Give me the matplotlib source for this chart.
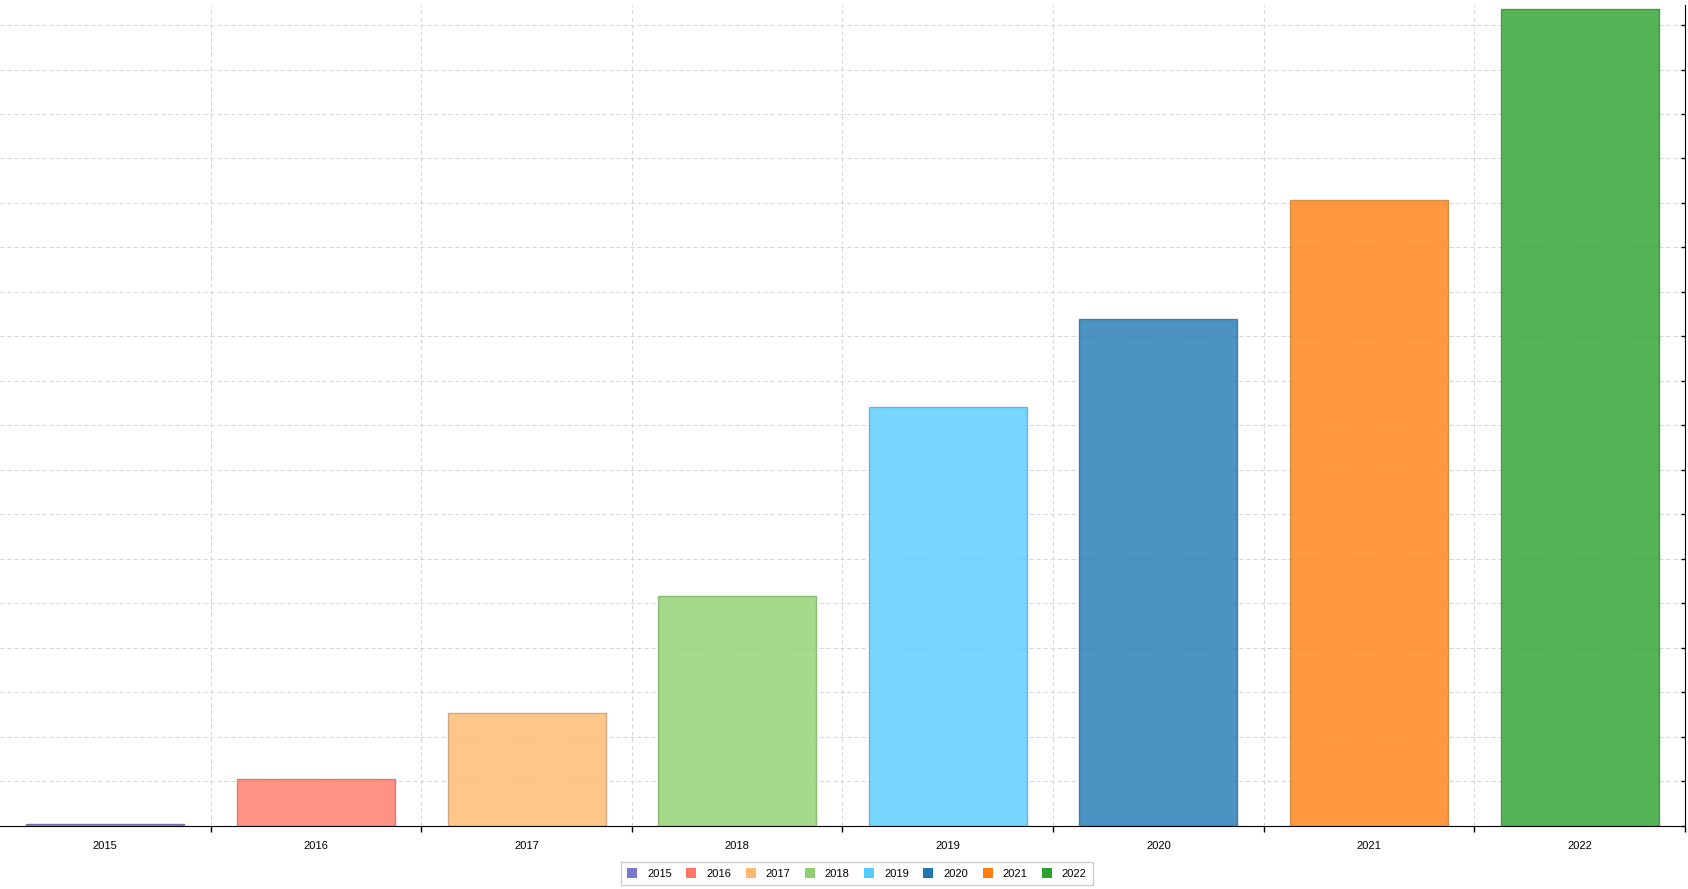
import numpy as np
from matplotlib import pyplot as plt
from matplotlib.patches import Patch

# yearly values (axis labels are cut off in the reference, so units are grid steps)
years = ['2015', '2016', '2017', '2018', '2019', '2020', '2021', '2022']
values = [0.05, 1.05, 2.53, 5.16, 9.41, 11.40, 14.06, 18.35]
colors = ['#7777cc', '#ff7766', '#ffb86c', '#8fd16e', '#55ccff', '#1f77b4', '#ff7f0e', '#2ca02c']
edges = ['#5a5f9c', '#c2705f', '#c99a70', '#78ad65', '#55a9c9', '#2b6a96', '#c78032', '#3d803d']

plt.rcParams['font.family'] = ['Liberation Sans', 'DejaVu Sans']

fig = plt.figure(figsize=(16.88, 8.89), dpi=100)
ax = fig.add_axes([0.0, 0.0709, 0.9982, 0.9235])

x = np.arange(len(years)) + 0.5
ax.bar(x, values, 0.75, color=colors, edgecolor=edges, linewidth=1, alpha=0.8, zorder=2)

ax.set_xlim(0, len(years))
ax.set_ylim(0, 18.45)

# labels at the centres, small ticks on the category borders
ax.set_xticks(x)
ax.set_xticklabels(years, fontsize=8)
ax.tick_params(axis='x', which='major', length=0, pad=10.5)
ax.set_xticks(np.arange(1, len(years) + 1), minor=True)
ax.tick_params(axis='x', which='minor', length=4, width=1, direction='out')

ax.set_yticks(np.arange(0, 19, 1))
ax.yaxis.tick_right()
ax.tick_params(axis='y', direction='in', length=3, width=1, labelright=False)

grid_style = dict(color='#d4d4d4', linestyle=(0, (4, 3)), linewidth=0.72, zorder=0)
ax.grid(True, which='minor', axis='x', **grid_style)
ax.grid(True, which='major', axis='y', **grid_style)
ax.set_axisbelow(True)

ax.spines['top'].set_visible(False)
ax.spines['left'].set_visible(False)
ax.spines['right'].set_color('black')
ax.spines['bottom'].set_color('black')

handles = [Patch(facecolor=c, edgecolor='none') for c in colors]
leg = fig.legend(handles, years, loc='lower center', bbox_to_anchor=(0.5077, 0.0045),
                 ncol=len(years), fontsize=8, frameon=True, fancybox=False,
                 handlelength=0.9, handleheight=0.9, handletextpad=0.9,
                 columnspacing=1.3, borderpad=0.55, borderaxespad=0)
leg.get_frame().set_edgecolor('#c0c0c0')
leg.get_frame().set_linewidth(1)

fig.savefig('out.png', dpi=100)
